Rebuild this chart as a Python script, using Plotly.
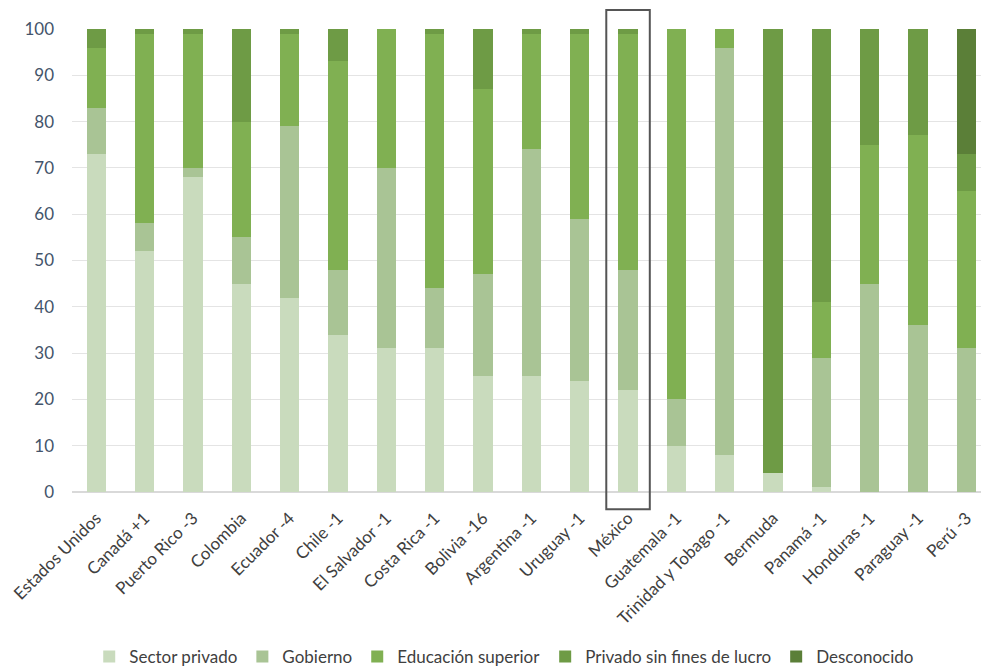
import plotly.graph_objects as go

paises = ["Estados Unidos", "Canadá +1", "Puerto Rico -3", "Colombia", "Ecuador -4",
          "Chile -1", "El Salvador -1", "Costa Rica -1", "Bolivia -16", "Argentina -1",
          "Uruguay -1", "México", "Guatemala -1", "Trinidad y Tobago -1", "Bermuda",
          "Panamá -1", "Honduras -1", "Paraguay -1", "Perú -3"]

sector_privado = [73, 52, 68, 45, 42, 34, 31, 31, 25, 25, 24, 22, 10, 8, 4, 1, 0, 0, 0]
gobierno = [10, 6, 2, 10, 37, 14, 39, 13, 22, 49, 35, 26, 10, 88, 0, 28, 45, 36, 31]
educacion_superior = [13, 41, 29, 25, 20, 45, 30, 55, 40, 25, 40, 51, 80, 4, 0, 12, 30, 41, 34]
privado_sin_fines = [4, 1, 1, 20, 1, 7, 0, 1, 13, 1, 1, 1, 0, 0, 96, 59, 25, 23, 8]
desconocido = [0, 0, 0, 0, 0, 0, 0, 0, 0, 0, 0, 0, 0, 0, 0, 0, 0, 0, 27]

series = [
    ("Sector privado", sector_privado, "#c9dbbd"),
    ("Gobierno", gobierno, "#a9c495"),
    ("Educación superior", educacion_superior, "#80b052"),
    ("Privado sin fines de lucro", privado_sin_fines, "#6e9b45"),
    ("Desconocido", desconocido, "#5b7f38"),
]

fig = go.Figure()
for name, vals, color in series:
    fig.add_trace(go.Bar(name=name, x=paises, y=vals, marker=dict(color=color, line=dict(width=0))))

fig.add_shape(type="rect", xref="x", yref="paper",
              x0=paises.index("México") - 0.45, x1=paises.index("México") + 0.45,
              y0=-0.037, y1=1.041, line=dict(color="#555555", width=2), fillcolor="rgba(0,0,0,0)")

fig.update_layout(
    barmode="stack",
    bargap=0.6,
    width=981, height=669,
    margin=dict(l=72, r=0, t=29, b=177, autoexpand=False),
    plot_bgcolor="white", paper_bgcolor="white",
    font=dict(family="Lato, Open Sans, sans-serif", color="#404040"),
    legend=dict(orientation="h", xref="container", x=0.514, xanchor="center",
                yref="container", y=0.018, yanchor="middle",
                font=dict(size=17, color="#404040"), traceorder="normal", itemwidth=30),
    xaxis=dict(tickangle=-45, tickfont=dict(size=17, color="#404040"), showgrid=False,
               showline=False, range=[-0.5, 18.3], ticklabelstandoff=12),
    yaxis=dict(range=[0, 100], dtick=10, tickfont=dict(size=17, color="#44546a"),
               gridcolor="#e4e4e4", gridwidth=1, showline=False, zeroline=True,
               zerolinecolor="#d9d9d9", ticks="", ticklabelstandoff=17),
)

fig.write_html("out.html", config={"displayModeBar": False},
               post_script="document.body.style.margin='0px';")
